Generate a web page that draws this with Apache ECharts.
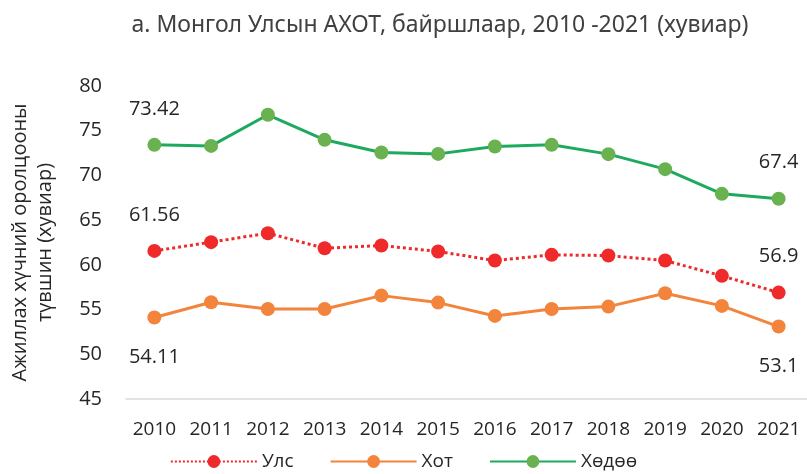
<!DOCTYPE html>
<html>
<head>
<meta charset="utf-8">
<script src="https://cdn.jsdelivr.net/npm/echarts@6/dist/echarts.min.js"></script>
<style>
  html, body { margin: 0; padding: 0; background: #fff; }
  #main { width: 807px; height: 474px; }
</style>
</head>
<body>
<div id="main"></div>
<script>
var years = ['2010', '2011', '2012', '2013', '2014', '2015', '2016', '2017', '2018', '2019', '2020', '2021'];
var ulsData = [61.56, 62.54, 63.54, 61.86, 62.16, 61.5, 60.48, 61.12, 61.04, 60.48, 58.77, 56.9];
var hotData = [54.11, 55.82, 55.07, 55.07, 56.56, 55.78, 54.29, 55.07, 55.33, 56.83, 55.41, 53.1];
var khudooData = [73.42, 73.3, 76.78, 73.98, 72.56, 72.41, 73.23, 73.42, 72.38, 70.7, 67.94, 67.4];
var seriesNames = ['Улс', 'Хот', 'Хөдөө'];

var font = 'Open Sans';

// only first and last points carry a label
function edgeLabel(pos, dist) {
  return {
    show: true,
    position: pos,
    distance: dist,
    fontSize: 20,
    fontFamily: font,
    color: '#262626',
    formatter: function (p) {
      return (p.dataIndex === 0 || p.dataIndex === years.length - 1) ? p.value : '';
    }
  };
}

var chart = echarts.init(document.getElementById('main'));

var option = {
  animation: false,
  textStyle: { fontFamily: font },
  title: {
    text: 'а. Монгол Улсын АХОТ, байршлаар, 2010 -2021 (хувиар)',
    left: 435,
    textAlign: 'center',
    top: 9,
    textStyle: {
      fontSize: 23,
      fontWeight: 'normal',
      color: '#404040',
      fontFamily: 'Noto Sans'
    }
  },
  legend: {
    bottom: -2,
    left: 'center',
    itemWidth: 86,
    itemHeight: 16,
    itemGap: 36,
    textStyle: { fontSize: 19, color: '#262626', fontFamily: font },
    data: seriesNames
  },
  grid: {
    left: 121,
    right: -2,
    top: 86,
    bottom: 75
  },
  xAxis: {
    type: 'category',
    data: years,
    boundaryGap: true,
    axisLine: { show: true, lineStyle: { color: '#d9d9d9', width: 1.5 } },
    axisTick: { show: false },
    axisLabel: { fontSize: 19, color: '#262626', margin: 21 }
  },
  yAxis: {
    type: 'value',
    min: 45,
    max: 80,
    interval: 5,
    splitLine: { show: false },
    axisLine: { show: false },
    axisTick: { show: false },
    axisLabel: { fontSize: 20, color: '#262626', margin: 24 },
    name: 'Ажиллах хүчний оролцооны\nтүвшин (хувиар)',
    nameLocation: 'middle',
    nameGap: 68,
    nameTextStyle: { fontSize: 20, color: '#262626', lineHeight: 25 }
  },
  series: [
    {
      name: seriesNames[0],
      type: 'line',
      data: ulsData,
      symbol: 'circle',
      symbolSize: 14,
      lineStyle: { color: '#ee2a2a', width: 3, type: 'dotted' },
      itemStyle: { color: '#ee2a2a' },
      label: edgeLabel('top', 19)
    },
    {
      name: seriesNames[1],
      type: 'line',
      data: hotData,
      symbol: 'circle',
      symbolSize: 14,
      lineStyle: { color: '#f2843c', width: 3 },
      itemStyle: { color: '#f2843c' },
      label: edgeLabel('bottom', 23)
    },
    {
      name: seriesNames[2],
      type: 'line',
      data: khudooData,
      symbol: 'circle',
      symbolSize: 14,
      lineStyle: { color: '#1eaa5e', width: 3 },
      itemStyle: { color: '#6ab150' },
      label: edgeLabel('top', 19)
    }
  ]
};

chart.setOption(option);
</script>
</body>
</html>
